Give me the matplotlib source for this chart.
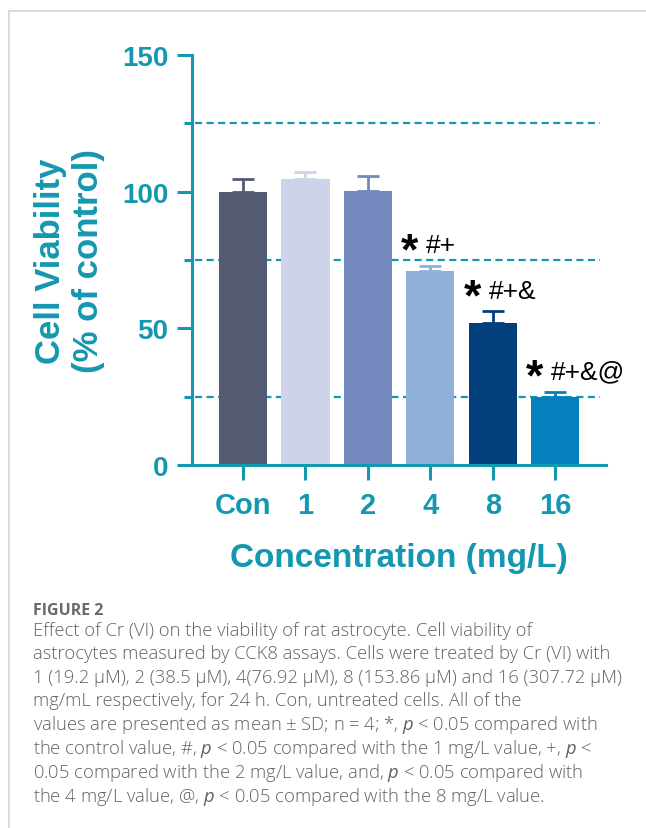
import matplotlib
matplotlib.use("Agg")
import matplotlib.pyplot as plt
from matplotlib.lines import Line2D
from matplotlib.ticker import FixedLocator

# Cell viability data (% of control), mean and SD
groups = ["Con", "1", "2", "4", "8", "16"]
viability = [100.0, 104.6, 100.2, 70.8, 51.8, 25.0]
sd = [4.6, 2.6, 5.7, 2.1, 4.4, 1.8]
bar_colors = ["#535a72", "#cdd4e9", "#7388bd", "#8fb1d7", "#023f7d", "#0580bf"]
sig_labels = ["", "", "", "*#+", "*#+&", "*#+&@"]
ref_lines = [25, 75, 125]
y_major = [0, 50, 100, 150]
y_minor = [25, 75, 125]

TEAL = "#1497b0"
W, H = 646, 829

plt.rcParams["font.family"] = ["Liberation Sans", "DejaVu Sans"]
plt.rcParams["mathtext.fontset"] = "custom"
plt.rcParams["mathtext.rm"] = "Open Sans"
plt.rcParams["mathtext.it"] = "Open Sans:italic"

fig = plt.figure(figsize=(W / 100, H / 100), dpi=100)
fig.patch.set_facecolor("white")

def fx(px):
    return px / W

def fy(py):
    return 1 - py / H

# card border
fig.add_artist(Line2D([fx(9), 1.0], [fy(12), fy(12)], color="#d4d4d4", lw=1.2))
fig.add_artist(Line2D([fx(9), fx(9)], [fy(12), 0.0], color="#d4d4d4", lw=1.2))

ax = fig.add_axes([fx(192), fy(466), fx(606) - fx(192), fy(56) - fy(466)])
x = list(range(len(groups)))
ax.set_xlim(-0.816, 5.81)
ax.set_ylim(0, 150)

ax.hlines(ref_lines, -0.77, 5.71, colors=TEAL, linestyles=(0, (3.2, 2.0)), lw=1.6, zorder=1)

ax.bar(x, viability, width=0.77, color=bar_colors, zorder=2)
for xi, v, s, c in zip(x, viability, sd, bar_colors):
    ax.errorbar(xi, v, yerr=[[0], [s]], color=c, capsize=8, capthick=2, elinewidth=2, zorder=3)

# significance marks: bold asterisk followed by the other symbols
for xi, lab in zip(x, sig_labels):
    if lab:
        top = viability[xi] + sd[xi] + 8.5
        star, rest = lab[0], lab[1:]
        ax.annotate(star, (xi - 0.47, top), xytext=(0, -15), textcoords="offset points",
                    fontsize=32, fontweight="bold", color="black",
                    ha="left", va="baseline", zorder=4)
        ax.annotate(rest, (xi - 0.47, top), xytext=(18, -7), textcoords="offset points",
                    fontsize=19, color="black", ha="left", va="baseline", zorder=4)

for side in ["top", "right"]:
    ax.spines[side].set_visible(False)
for side in ["left", "bottom"]:
    ax.spines[side].set_color(TEAL)
    ax.spines[side].set_linewidth(2.2)

ax.yaxis.set_major_locator(FixedLocator(y_major))
ax.yaxis.set_minor_locator(FixedLocator(y_minor))
ax.tick_params(axis="y", which="major", length=11, width=2.2, color=TEAL,
               labelcolor=TEAL, labelsize=20, pad=6)
ax.tick_params(axis="y", which="minor", length=6, width=2.2, color=TEAL)
ax.set_xticks(x)
ax.set_xticklabels(groups)
ax.tick_params(axis="x", length=11, width=2.2, color=TEAL, labelcolor=TEAL,
               labelsize=21, pad=8)
for lbl in ax.get_xticklabels() + ax.get_yticklabels():
    lbl.set_fontweight("bold")

ax.set_ylabel("Cell Viability\n(% of control)", color=TEAL, fontsize=25,
              fontweight="bold", linespacing=1.2, labelpad=12)
ax.set_xlabel("Concentration (mg/L)", color=TEAL, fontsize=24, fontweight="bold",
              labelpad=16)

# caption
cap_color = "#626262"
fig.text(fx(33), fy(611), "FIGURE 2", fontsize=11.5, color="#6a6a6a", fontweight="bold",
         family=["Open Sans", "DejaVu Sans"], va="center")
caption_lines = [
    "Effect of Cr (VI) on the viability of rat astrocyte. Cell viability of",
    "astrocytes measured by CCK8 assays. Cells were treated by Cr (VI) with",
    "1 (19.2 μM), 2 (38.5 μM), 4(76.92 μM), 8 (153.86 μM) and 16 (307.72 μM)",
    "mg/mL respectively, for 24 h. Con, untreated cells. All of the",
    "values are presented as mean ± SD; n = 4; *, $p$ < 0.05 compared with",
    "the control value, #, $p$ < 0.05 compared with the 1 mg/L value, +, $p$ <",
    "0.05 compared with the 2 mg/L value, and, $p$ < 0.05 compared with",
    "the 4 mg/L value, @, $p$ < 0.05 compared with the 8 mg/L value.",
]
line_y = [631, 654, 678, 701, 725, 749, 773, 797]
for yy, line in zip(line_y, caption_lines):
    fig.text(fx(33), fy(yy), line, fontsize=13.2, color=cap_color,
             family=["Open Sans", "DejaVu Sans"], fontweight="light", va="center")

fig.savefig("out.png", dpi=100, facecolor="white")
